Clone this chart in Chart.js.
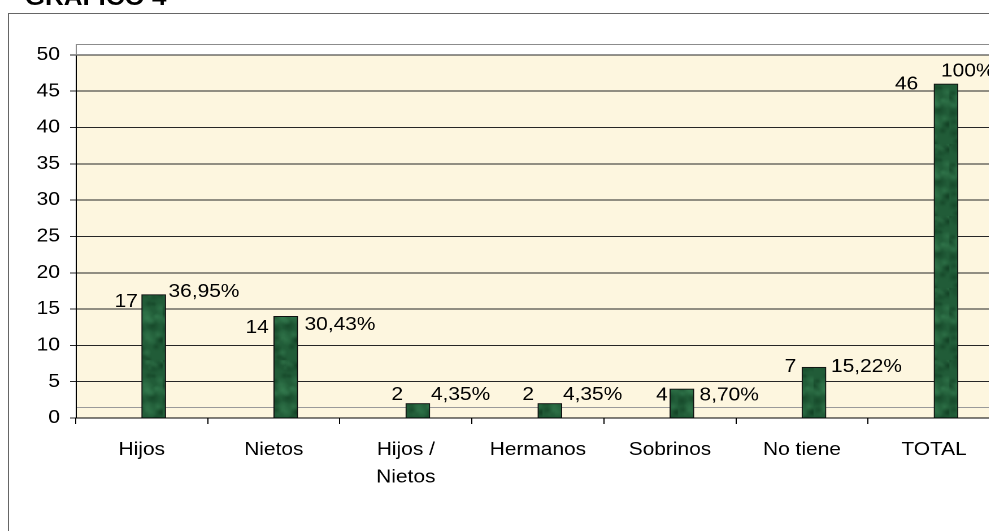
<!DOCTYPE html>
<html>
<head>
<meta charset="utf-8">
<script src="https://cdn.jsdelivr.net/npm/chart.js@4.4.1/dist/chart.umd.min.js"></script>
<style>
  html, body { margin: 0; padding: 0; background: #fff; overflow: hidden; width: 989px; height: 531px; }
  #frame { position: absolute; left: 8px; top: 13px; width: 1100px; height: 700px; border: 1px solid #666; }
  #wrap { position: absolute; left: 0; top: 0; width: 900px; height: 531px; transform: scaleX(1.13); transform-origin: 0 0; }
  #title { position: absolute; left: 22px; top: -14.5px; font: bold 23px 'Liberation Sans', Arial, sans-serif; line-height: 23px; color: #000; white-space: nowrap; }
  #chart { position: absolute; left: 0; top: 0; }
</style>
</head>
<body>
<div id="frame"></div>
<div id="wrap">
  <div id="title">GRÁFICO 4</div>
  <canvas id="chart" width="900" height="531"></canvas>
</div>
<script>
// ---- data ----
const categories = ['Hijos', 'Nietos', ['Hijos /', 'Nietos'], 'Hermanos', 'Sobrinos', 'No tiene', 'TOTAL'];
const counts     = [17, 14, 2, 2, 4, 7, 46];
const percents   = [36.95, 30.43, 4.35, 4.35, 8.70, 15.22, 100];
const yTicks     = [0, 5, 10, 15, 20, 25, 30, 35, 40, 45, 50];

const FONT = "'Liberation Sans', Arial, sans-serif";

function fmtPct(v) {
  return v === 100 ? '100%' : v.toFixed(2).replace('.', ',') + '%';
}

// mottled dark green fill for the bars
function barPattern() {
  const c = document.createElement('canvas');
  c.width = 24; c.height = 72;
  const g = c.getContext('2d');
  g.fillStyle = '#215c38';
  g.fillRect(0, 0, c.width, c.height);
  for (let k = 0; k < 40; k++) {
    const n1 = Math.sin(k * 12.9898) * 43758.5453, f1 = n1 - Math.floor(n1);
    const n2 = Math.sin(k * 78.233) * 24634.6345, f2 = n2 - Math.floor(n2);
    const n3 = Math.sin(k * 37.719) * 12345.6789, f3 = n3 - Math.floor(n3);
    const x = f1 * c.width, y = f2 * c.height, r = 3 + f3 * 5;
    const grd = g.createRadialGradient(x, y, 0, x, y, r);
    const col = k % 2 ? '60,135,88' : '12,52,28';
    grd.addColorStop(0, `rgba(${col},0.45)`);
    grd.addColorStop(1, `rgba(${col},0)`);
    g.fillStyle = grd;
    g.fillRect(x - r, y - r, r * 2, r * 2);
  }
  return g.createPattern(c, 'repeat');
}

const plotBg = {
  id: 'plotBg',
  beforeDraw(chart) {
    const { ctx, chartArea: a, scales: { y } } = chart;
    ctx.save();
    ctx.fillStyle = '#fff';
    ctx.fillRect(a.left, a.top, a.right - a.left, a.bottom - a.top);
    const top = y.getPixelForValue(50);
    ctx.fillStyle = '#fdf6df';
    ctx.fillRect(a.left, top, a.right - a.left, a.bottom - top);
    ctx.restore();
  },
  beforeDatasetsDraw(chart) {
    // faint floor line near the base
    const { ctx, chartArea: a, scales: { y } } = chart;
    const py = Math.round(y.getPixelForValue(1.5)) + 0.5;
    ctx.save();
    ctx.strokeStyle = '#9a9a9a';
    ctx.lineWidth = 1;
    ctx.beginPath();
    ctx.moveTo(a.left, py); ctx.lineTo(a.right, py);
    ctx.stroke();
    ctx.restore();
  },
  afterDraw(chart) {
    const { ctx, chartArea: a, scales: { y } } = chart;
    const l = Math.round(a.left) + 0.5, t = Math.round(a.top) + 0.5, r = Math.round(a.right) - 0.5;
    const y50 = Math.round(y.getPixelForValue(50)) + 0.5;
    ctx.save();
    ctx.lineWidth = 1;
    ctx.strokeStyle = '#8c8c8c';
    ctx.beginPath();
    ctx.moveTo(l, y50); ctx.lineTo(l, t); ctx.lineTo(r, t); ctx.lineTo(r, a.bottom);
    ctx.stroke();
    ctx.strokeStyle = '#000';
    ctx.beginPath();
    ctx.moveTo(l, y50); ctx.lineTo(l, a.bottom);
    ctx.stroke();
    ctx.restore();
  }
};

const barLabels = {
  id: 'barLabels',
  afterDatasetsDraw(chart, args, opts) {
    const meta = chart.getDatasetMeta(1);
    const ctx = chart.ctx;
    ctx.save();
    ctx.font = '18.5px ' + FONT;
    ctx.fillStyle = '#000';
    ctx.textBaseline = 'alphabetic';
    meta.data.forEach((bar, i) => {
      const half = bar.width / 2;
      ctx.textAlign = 'right';
      ctx.fillText(String(counts[i]), bar.x - half - opts.countGap[i], bar.y + opts.countDy[i] + 6.6);
      ctx.textAlign = 'left';
      ctx.fillText(fmtPct(percents[i]), bar.x + half + opts.pctGap[i], bar.y + opts.pctDy[i] + 6.6);
    });
    ctx.restore();
  }
};

new Chart(document.getElementById('chart'), {
  type: 'bar',
  data: {
    labels: categories,
    datasets: [
      { label: '', data: categories.map(() => null), backgroundColor: 'transparent', barThickness: 21.2 },
      { label: 'Cantidad', data: counts, backgroundColor: barPattern(), borderColor: '#111', borderWidth: 1, barThickness: 21.2 },
    ],
  },
  options: {
    responsive: false,
    devicePixelRatio: 2,
    animation: false,
    layout: { padding: { top: 44, right: 15, left: 0, bottom: 0 } },
    plugins: {
      legend: { display: false },
      tooltip: { enabled: false },
      barLabels: {
        countGap: [3.5, 4.5, 2.5, 3.5, 2, 5, 14],
        countDy:  [6, 10, -10, -10, 5, -2, -1],
        pctGap:   [2.5, 6, 1, 1, 5, 4.5, -15],
        pctDy:    [-4, 7, -10, -10, 5, -2, -14],
      },
    },
    scales: {
      x: {
        offset: true,
        grid: { display: true, offset: true, drawOnChartArea: false, drawTicks: true, tickLength: 6, color: '#000' },
        border: { display: true, color: '#000', width: 1 },
        ticks: { color: '#000', font: { family: FONT, size: 18.5, lineHeight: 1.5 }, padding: 12, maxRotation: 0, autoSkip: false },
        afterFit(scale) { scale.height = 113; },
      },
      y: {
        min: 0,
        max: 51.5,
        afterBuildTicks(scale) { scale.ticks = yTicks.map(v => ({ value: v })); },
        grid: { color: '#262626', tickLength: 5, drawTicks: true },
        border: { display: false },
        ticks: { color: '#000', font: { family: FONT, size: 18.5 }, padding: 9 },
        afterFit(scale) { scale.width = 67; },
      },
    },
  },
  plugins: [plotBg, barLabels],
});
</script>
</body>
</html>
